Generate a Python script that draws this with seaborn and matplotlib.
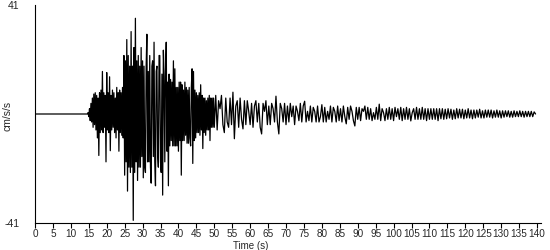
import numpy as np
import pandas as pd
import matplotlib
matplotlib.use("Agg")
import matplotlib.pyplot as plt
import seaborn as sns

# ---- data (acceleration, cm/s/s) ----
quiet_start = 0.0          # s, record start (flat before the P arrival)
quiet_values = [0.0, 0.0]

strong_start = 14.8        # s, strong-motion part, finer sampling
strong_step = 0.2          # s
strong_values = [
    0.5, -1, 2, -2.5, 4, -3, 6, -5, 7.5, -4, 8, -6, 7, -9, 6, -15.6, 8, -7, 9, -6,
    16, -7, 8, -5, 7, -18, 15.6, -6, 8, -7, 14, -13.8, 7, -6, 9, -5, 8, -7, 6, -9,
    10, -6, 8, -14, 9, -7, 8, -8, 10, -9, 22, -23, 20, -18, 28, -29, 22, -20, 18, -22,
    31, -20, 18, -40, 25, -22, 36, -18, 20, -25, 22, -20, 18, -20, 25, -16, 20, -24, 18, -20,
    -22, 18, 30, -18, 16, -18, 22, -20, -26, 18, 20, -16, 27, -18, -27, 16, 18, -15, -20, 22,
    22, -18, -22, 15, -30.5, 24, 14, -18, 16, 27, -14, 12, -27, 15, -12, 13, -10, 12, -12, 20,
    -12, 17, -12, 10, -12, 10, -14, 12, -10, 12, -23, 11, -10, 9, -10, 12, -8, 10, -11, 9,
    -11, 10, -9, -12, 10, 17, -18.6, 16, -10, 9, -9, 8, -7, 7, -7, 8, -8, 11, -6, 7,
    -13, 6, -7, 6, -8, 5, -6, 6, -6, 7, -10, 6, -5, 6, -5, 6, -5,
]

coda_start = 50.4          # s, coda part
coda_step = 0.4            # s
coda_values = [
    7,
    -6, 5, 2, 7, -4, -7, 6, -3, -5, 6,
    -4, 8.2, -9.3, 3, 5, -5, 6, -2, -5.6, 5,
    -4, 5, 1, -4, 4, -5, 3, 5, -3, 4,
    -5, -7.5, 4, 1, 5, -4, 3, -4, 4, 2,
    -3, 6.7, -3, -7.5, 4, 2, -3, 4, -4, 3,
    -3, 4, -1, 3, -4, 3, 1, -2.5, 4, -3,
    3, 4.8, -3, 1, -2.5, 3, -3, 2.5, 1, -3,
    3, -3, -1, 3.5, -3, 2.5, -3, 1, -2, 3,
    -3, 2.5, 1, -3, 3, -2.5, 2, -3, 3, -1,
    -3.7, 2.5, -2, 3, 1, -2.5, -4.5, 2.5, -2, 2.5,
    -2.5, 2, 1, 3, -2, 2.5, -2, 2, -2.5, 0.5,
    -2, 2.5, -2, 3.7, -2.5, 2, 0.5, -2.5, 2, -2,
    2.5, -2, 2, -2.5, 2.5, -1, 2, -2, 2.5, -2.5,
    2, -2, 2.5, -2, 2, -2.6, 0.5, 2, -2, 2.5,
    -2, 2, -2, 2.5, -2, 2, -2.5, 2, -2, 2,
    -2, 2, -2, 2, -2.5, 2, -1.8, 2, -2, 1.8,
    -1.8, 2, -1.5, 1.8, -2, 1.5, -1.8, 2, -1.5, 1.8,
    -1.5, 1.8, -1.8, 1.5, -1.5, 2, -1.5, 1.5, -1.8, 1.5,
    -1.5, 1.5, -1.2, 1.8, -1.5, 1.2, -1.5, 1.5, -1.2, 1.5,
    -1.2, 1.5, -1.5, 1.2, -1.2, 1.5, -1.2, 1.2, -1.5, 1.2,
    -1.2, 1.2, -1, 1.2, -1.2, 1, -1.2, 1.2, -1, 1,
    -1, 1.2, -1, 1, -1.2, 1, -1, 1, -1, 1,
    -1, 0.8, 0,
]

x_ticks = list(range(0, 141, 5))
y_limit = 41
y_label = "cm/s/s"
x_label = "Time (s)"

# ---- assemble ----
strong_times = strong_start + strong_step * np.arange(len(strong_values))
coda_times = coda_start + coda_step * np.arange(len(coda_values))
quiet_times = [quiet_start, strong_start - strong_step]
df = pd.DataFrame({
    "t": list(quiet_times) + list(strong_times) + list(coda_times),
    "a": quiet_values + strong_values + coda_values,
})

sns.set_theme(style="white")
plt.rcParams["font.family"] = ["Liberation Sans", "DejaVu Sans"]

fig = plt.figure(figsize=(5.5, 2.5), dpi=100)
ax = fig.add_axes([35 / 550, 27 / 250, 505.6 / 550, 218 / 250])

sns.lineplot(data=df, x="t", y="a", color="black", linewidth=0.9,
             estimator=None, sort=False, ax=ax)

ax.set_xlim(0, 141)
ax.set_ylim(-y_limit, y_limit)
ax.set_xticks(x_ticks)
ax.set_xticklabels([str(v) for v in x_ticks], fontsize=7.2)
ax.set_yticks([-y_limit, y_limit])
ax.set_yticklabels([str(-y_limit), str(y_limit)], fontsize=7.5)
ax.tick_params(axis="x", direction="out", length=3.8, width=0.8,
               color="black", pad=0.3, bottom=True)
ax.tick_params(axis="y", length=0, pad=11)

for side in ("top", "right"):
    ax.spines[side].set_visible(False)
for side in ("left", "bottom"):
    ax.spines[side].set_color("black")
    ax.spines[side].set_linewidth(0.8)

ax.set_xlabel(x_label, fontsize=7, labelpad=0)
ax.xaxis.set_label_coords(0.427, -0.081)
ax.set_ylabel(y_label, fontsize=7.5)
ax.yaxis.set_label_coords(-0.045, 0.49)
ax.grid(False)

fig.savefig("out.png", dpi=100)
